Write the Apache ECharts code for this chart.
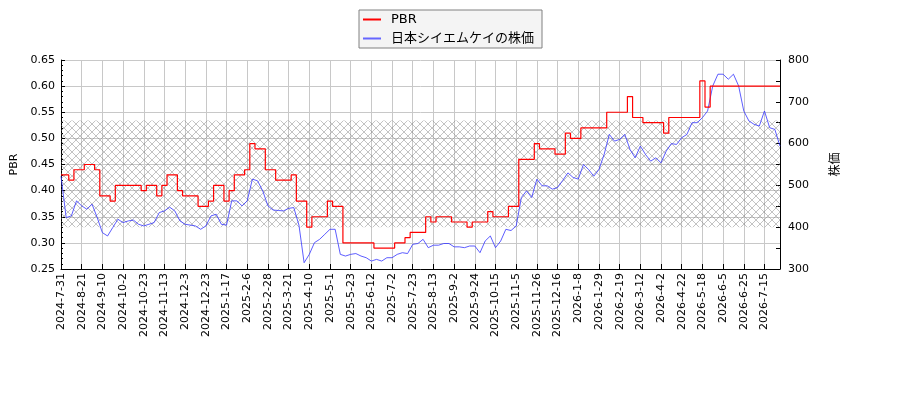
<!DOCTYPE html>
<html>
<head>
<meta charset="UTF-8">
<title>PBR</title>
<script src="https://cdn.jsdelivr.net/npm/echarts@6/dist/echarts.min.js"></script>
<style>
  html, body { margin: 0; padding: 0; background: #fff; }
  #main { width: 900px; height: 400px; }
</style>
</head>
<body>
<div id="main"></div>
<script>
// tick dates (one every 4 points)
var tickLabels = ['2024-7-31', '2024-8-21', '2024-9-10', '2024-10-2', '2024-10-23', '2024-11-13',
    '2024-12-3', '2024-12-23', '2025-1-17', '2025-2-6', '2025-2-28', '2025-3-21', '2025-4-10',
    '2025-5-1', '2025-5-23', '2025-6-12', '2025-7-2', '2025-7-23', '2025-8-13', '2025-9-2',
    '2025-9-24', '2025-10-15', '2025-11-5', '2025-11-26', '2025-12-16', '2026-1-8', '2026-1-29',
    '2026-2-19', '2026-3-12', '2026-4-2', '2026-4-22', '2026-5-18', '2026-6-5', '2026-6-25', '2026-7-15'];

var pbr = [
    0.43, 0.43, 0.42, 0.44, 0.44, 0.45, 0.45, 0.44, 0.39, 0.39,
    0.38, 0.41, 0.41, 0.41, 0.41, 0.41, 0.40, 0.41, 0.41, 0.39,
    0.41, 0.43, 0.43, 0.40, 0.39, 0.39, 0.39, 0.37, 0.37, 0.38,
    0.41, 0.41, 0.38, 0.40, 0.43, 0.43, 0.44, 0.49, 0.48, 0.48,
    0.44, 0.44, 0.42, 0.42, 0.42, 0.43, 0.38, 0.38, 0.33, 0.35,
    0.35, 0.35, 0.38, 0.37, 0.37, 0.30, 0.30, 0.30, 0.30, 0.30,
    0.30, 0.29, 0.29, 0.29, 0.29, 0.30, 0.30, 0.31, 0.32, 0.32,
    0.32, 0.35, 0.34, 0.35, 0.35, 0.35, 0.34, 0.34, 0.34, 0.33,
    0.34, 0.34, 0.34, 0.36, 0.35, 0.35, 0.35, 0.37, 0.37, 0.46,
    0.46, 0.46, 0.49, 0.48, 0.48, 0.48, 0.47, 0.47, 0.51, 0.50,
    0.50, 0.52, 0.52, 0.52, 0.52, 0.52, 0.55, 0.55, 0.55, 0.55,
    0.58, 0.54, 0.54, 0.53, 0.53, 0.53, 0.53, 0.51, 0.54, 0.54,
    0.54, 0.54, 0.54, 0.54, 0.61, 0.56, 0.60, 0.60, 0.60, 0.60,
    0.60, 0.60, 0.60, 0.60, 0.60, 0.60, 0.60, 0.60, 0.60, 0.60
];

var price = [
    522, 423, 427, 463, 451, 443, 455, 423, 387, 379,
    399, 419, 411, 415, 417, 407, 403, 407, 411, 435,
    439, 448, 439, 415, 407, 405, 403, 395, 403, 427,
    431, 407, 405, 463, 463, 451, 463, 515, 511, 487,
    451, 441, 440, 439, 445, 447, 405, 315, 335, 363,
    371, 383, 395, 395, 335, 331, 335, 337, 331, 327,
    319, 323, 319, 327, 327, 335, 339, 337, 359, 361,
    371, 351, 357, 357, 361, 361, 353, 353, 351, 355,
    355, 339, 367, 379, 351, 367, 395, 392, 403, 471,
    487, 471, 515, 499, 499, 491, 495, 512, 530, 519,
    515, 550, 538, 522, 538, 574, 622, 606, 610, 622,
    586, 566, 594, 574, 558, 566, 554, 582, 600, 598,
    614, 622, 650, 650, 662, 678, 738, 766, 766, 754,
    766, 738, 678, 654, 646, 642, 678, 638, 634, 594
];

// hatched band on the price axis
var bandLow = 400;
var bandHigh = 655;

var perTick = 4;
var categories = [];
for (var i = 0; i < pbr.length; i++) {
    var t = tickLabels[Math.floor(i / perTick)];
    categories.push(i % perTick === 0 ? t : t + '#' + (i % perTick));
}

// cross hatch pattern
var hatch = document.createElement('canvas');
hatch.width = 8;
hatch.height = 8;
var ctx = hatch.getContext('2d');
ctx.strokeStyle = 'rgba(120,120,120,0.75)';
ctx.lineWidth = 0.6;
ctx.beginPath();
ctx.moveTo(0, 0); ctx.lineTo(8, 8);
ctx.moveTo(8, 0); ctx.lineTo(0, 8);
ctx.stroke();

var font = 'DejaVu Sans, Noto Sans CJK JP, sans-serif';
var chart = echarts.init(document.getElementById('main'));

chart.setOption({
    animation: false,
    textStyle: { fontFamily: font },
    legend: {
        left: 359,
        top: 10,
        orient: 'vertical',
        itemWidth: 18,
        itemHeight: 2,
        itemGap: 4,
        padding: [2, 8, 2, 4],
        backgroundColor: '#f4f4f4',
        borderColor: '#808080',
        borderWidth: 1,
        borderRadius: 0,
        textStyle: { fontFamily: font, fontSize: 13, lineHeight: 15, color: '#000', padding: [0, 0, 0, 5] },
        data: [
            { name: 'PBR', icon: 'rect' },
            { name: '日本シイエムケイの株価', icon: 'rect' }
        ]
    },
    grid: { left: 61, right: 120, top: 60, bottom: 131 },
    xAxis: {
        type: 'category',
        boundaryGap: false,
        data: categories,
        axisLine: { lineStyle: { color: '#000' } },
        axisTick: { inside: true, length: 5, interval: perTick - 1, lineStyle: { color: '#000' } },
        axisLabel: {
            interval: perTick - 1,
            rotate: 90,
            fontSize: 11,
            color: '#000',
            fontFamily: font,
            margin: 4
        },
        splitLine: { show: true, interval: perTick - 1, lineStyle: { color: '#c8c8c8' } }
    },
    yAxis: [
        {
            type: 'value',
            name: 'PBR',
            nameLocation: 'middle',
            nameRotate: 90,
            nameGap: 36,
            nameTextStyle: { fontSize: 11, color: '#000', fontFamily: font },
            min: 0.25,
            max: 0.65,
            interval: 0.05,
            axisLine: { show: true, lineStyle: { color: '#000' } },
            axisTick: { show: true, inside: true, length: 4, lineStyle: { color: '#000' } },
            minorTick: { show: true, splitNumber: 5, length: 2, lineStyle: { color: '#000' } },
            axisLabel: {
                fontSize: 11, color: '#000', fontFamily: font, margin: 6,
                formatter: function (v) { return v.toFixed(2); }
            },
            splitLine: { show: true, lineStyle: { color: '#c8c8c8' } }
        },
        {
            type: 'value',
            name: '株価',
            nameLocation: 'middle',
            nameRotate: 90,
            nameGap: 50,
            nameTextStyle: { fontSize: 12, color: '#000', fontFamily: font },
            min: 300,
            max: 800,
            interval: 100,
            axisLine: { show: true, lineStyle: { color: '#000' } },
            axisTick: { show: true, inside: true, length: 4, lineStyle: { color: '#000' } },
            minorTick: { show: true, splitNumber: 2, length: 4, lineStyle: { color: '#000' } },
            axisLabel: { fontSize: 11, color: '#000', fontFamily: font, margin: 8 },
            splitLine: { show: false }
        }
    ],
    series: [
        {
            name: '日本シイエムケイの株価',
            type: 'line',
            yAxisIndex: 1,
            data: price,
            symbol: 'none',
            color: '#6666ff',
            lineStyle: { width: 0.8, color: '#3333ff' },
            markArea: {
                silent: true,
                itemStyle: { color: { image: hatch, repeat: 'repeat' } },
                data: [[{ yAxis: bandLow }, { yAxis: bandHigh }]]
            },
            z: 2
        },
        {
            name: 'PBR',
            type: 'line',
            yAxisIndex: 0,
            data: pbr,
            step: 'middle',
            symbol: 'none',
            color: '#ff0000',
            lineStyle: { width: 1.2, color: '#ff0000' },
            z: 3
        }
    ]
});
</script>
</body>
</html>
